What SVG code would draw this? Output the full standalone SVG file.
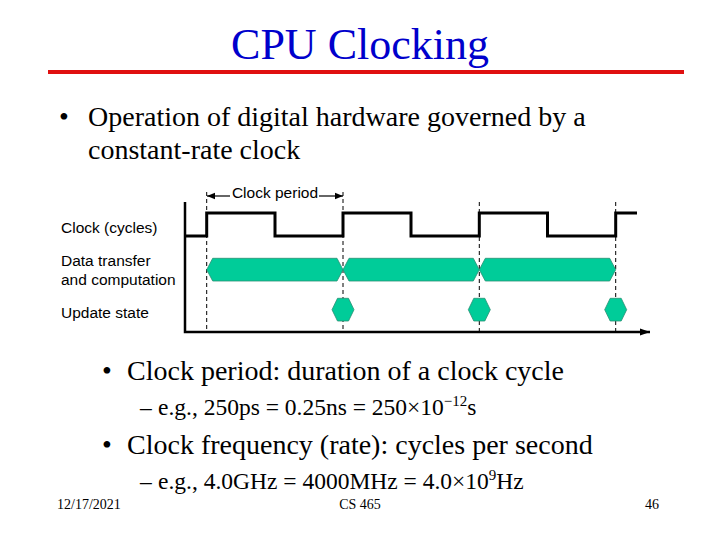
<svg xmlns="http://www.w3.org/2000/svg" width="720" height="540" viewBox="0 0 720 540">
<style>
.title{font-family:"Liberation Serif","Times New Roman",serif;font-size:44px;fill:#0000CC}
.b1{font-family:"Liberation Serif","Times New Roman",serif;font-size:28px;fill:#000}
.b2{font-family:"Liberation Serif","Times New Roman",serif;font-size:23.5px;fill:#000}
.sup{font-size:15px}
.lab{font-family:"Liberation Sans",Arial,sans-serif;font-size:15.5px;fill:#000}
.foot{font-family:"Liberation Serif","Times New Roman",serif;font-size:14px;fill:#000}
.wave{fill:none;stroke:#000;stroke-width:3;stroke-linejoin:miter}
.axis{fill:none;stroke:#000;stroke-width:2.5}
.dash{stroke:#000;stroke-width:1;stroke-dasharray:4 3}
.hex{fill:#00CC99;stroke:#2a8f74;stroke-width:0.8}
</style>
<defs>
<marker id="ah" viewBox="0 0 10 10" refX="10" refY="5" markerWidth="8" markerHeight="8" markerUnits="userSpaceOnUse" orient="auto">
<path d="M0,1 L10,5 L0,9 z" fill="#000"/>
</marker>
<marker id="axh" viewBox="0 0 10 10" refX="10" refY="5" markerWidth="10" markerHeight="10" markerUnits="userSpaceOnUse" orient="auto">
<path d="M0,1.5 L10,5 L0,8.5 z" fill="#000"/>
</marker>
</defs>

<g id="title">
<text class="title" x="360" y="59" text-anchor="middle">CPU Clocking</text>
<rect x="48" y="70" width="636" height="4" fill="#E01010"/>
</g>

<g id="bullets">
<text class="b1" x="59" y="126">•</text>
<text class="b1" x="88" y="126">Operation of digital hardware governed by a</text>
<text class="b1" x="88" y="159">constant-rate clock</text>
<text class="b1" x="102" y="380">•</text>
<text class="b1" x="127" y="380">Clock period: duration of a clock cycle</text>
<text class="b2" x="140" y="415">–</text>
<text class="b2" x="158" y="415">e.g., 250ps = 0.25ns = 250×10<tspan class="sup" dy="-9">−12</tspan><tspan dy="9">s</tspan></text>
<text class="b1" x="102" y="454">•</text>
<text class="b1" x="127" y="454">Clock frequency (rate): cycles per second</text>
<text class="b2" x="140" y="489">–</text>
<text class="b2" x="158" y="489">e.g., 4.0GHz = 4000MHz = 4.0×10<tspan class="sup" dy="-9">9</tspan><tspan dy="9">Hz</tspan></text>
</g>

<g id="labels">
<text class="lab" x="61" y="233">Clock (cycles)</text>
<text class="lab" x="61" y="266">Data transfer</text>
<text class="lab" x="61" y="285">and computation</text>
<text class="lab" x="61" y="318">Update state</text>
</g>

<g id="connectors">
<line class="dash" x1="206.7" y1="192" x2="206.7" y2="333"/>
<line class="dash" x1="343" y1="192" x2="343" y2="333"/>
<line class="dash" x1="479.3" y1="202" x2="479.3" y2="333"/>
<line class="dash" x1="615.7" y1="202" x2="615.7" y2="333"/>
<line x1="230" y1="196" x2="207" y2="196" stroke="#000" stroke-width="1.2" marker-end="url(#ah)"/>
<line x1="319" y1="196" x2="343" y2="196" stroke="#000" stroke-width="1.2" marker-end="url(#ah)"/>
<polyline class="axis" points="185,202 185,332 650,332" marker-end="url(#axh)"/>
</g>

<g id="clock-period-label">
<text class="lab" x="275" y="198" text-anchor="middle">Clock period</text>
</g>

<g id="clock">
<path class="wave" d="M185,236 H206.7 V213 H275 V236 H343 V213 H411 V236 H479.3 V213 H547.5 V236 H615.7 V213 H637"/>
</g>

<g id="data">
<polygon class="hex" points="206.7,269.7 212.7,258.3 337,258.3 343,269.7 337,281 212.7,281"/>
<polygon class="hex" points="343,269.7 349,258.3 473.3,258.3 479.3,269.7 473.3,281 349,281"/>
<polygon class="hex" points="479.3,269.7 485.3,258.3 609.7,258.3 615.7,269.7 609.7,281 485.3,281"/>
</g>

<g id="update">
<polygon class="hex" points="332,309.7 337.5,298.3 348.5,298.3 354,309.7 348.5,321 337.5,321"/>
<polygon class="hex" points="468.3,309.7 473.8,298.3 484.8,298.3 490.3,309.7 484.8,321 473.8,321"/>
<polygon class="hex" points="604.7,309.7 610.2,298.3 621.2,298.3 626.7,309.7 621.2,321 610.2,321"/>
</g>

<g id="footer">
<text class="foot" x="57" y="509">12/17/2021</text>
<text class="foot" x="360" y="509" text-anchor="middle">CS 465</text>
<text class="foot" x="652" y="509" text-anchor="middle">46</text>
</g>
</svg>
